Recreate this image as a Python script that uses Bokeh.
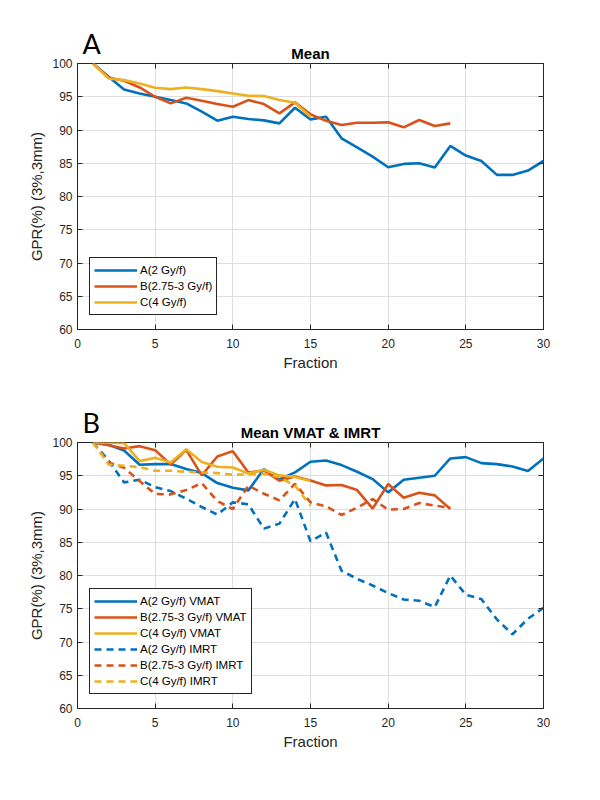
from bokeh.plotting import figure
from bokeh.models import Range1d, FixedTicker, LinearAxis, Legend, LegendItem, Title
from bokeh.layouts import column
from bokeh.embed import file_html
from bokeh.resources import INLINE

# ---------------- data ----------------
fraction_A = list(range(1, 31))
fraction_B = list(range(1, 25))
fraction_C = list(range(1, 16))

mean_A = [100, 98.0, 96.1, 95.5, 95.0, 94.5, 94.0, 92.75, 91.4, 92.0,
          91.65, 91.45, 91.0, 93.35, 91.6, 92.0, 88.75, 87.4, 86.0, 84.4,
          84.9, 85.0, 84.35, 87.6, 86.15, 85.35, 83.25, 83.25, 83.9, 85.35]
mean_B = [100, 97.9, 97.4, 96.4, 95.0, 94.0, 94.85, 94.4, 93.9, 93.5,
          94.5, 93.9, 92.5, 94.15, 92.35, 91.4, 90.75, 91.1, 91.1, 91.15,
          90.4, 91.5, 90.6, 91.0]
mean_C = [100, 97.75, 97.5, 97.0, 96.35, 96.15, 96.4, 96.15, 95.85, 95.5,
          95.15, 95.1, 94.5, 94.1, 92.0]

vmat_A = [100, 99.65, 98.8, 96.65, 96.75, 96.75, 96.0, 95.4, 93.9, 93.2,
          92.8, 96.0, 94.45, 95.5, 97.1, 97.3, 96.6, 95.6, 94.5, 92.5,
          94.4, 94.7, 95.0, 97.6, 97.8, 96.9, 96.75, 96.4, 95.7, 97.6]
vmat_B = [100, 99.6, 99.1, 99.45, 98.85, 96.7, 98.9, 95.05, 97.9, 98.7,
          95.5, 95.8, 94.25, 94.9, 94.3, 93.55, 93.6, 92.85, 90.05, 93.75,
          91.7, 92.45, 92.05, 90.0]
vmat_C = [100, 100, 99.9, 97.2, 97.7, 97.0, 99.0, 97.05, 96.35, 96.25,
          95.35, 95.9, 95.05, 94.8, 94.2]

imrt_A = [100, 97.3, 94.0, 94.4, 93.3, 92.7, 91.55, 90.3, 89.15, 91.0,
          90.7, 87.05, 87.8, 91.5, 85.15, 86.45, 80.7, 79.5, 78.5, 77.35,
          76.4, 76.2, 75.25, 80.0, 77.1, 76.45, 73.4, 71.15, 73.5, 75.15]
imrt_B = [100, 97.0, 96.2, 94.2, 92.25, 92.2, 92.85, 93.9, 91.2, 90.0,
          93.5, 92.3, 91.3, 93.8, 91.0, 90.4, 89.1, 90.2, 91.5, 89.9,
          90.0, 90.9, 90.5, 90.2]
imrt_C = [100, 96.7, 96.5, 96.3, 95.75, 95.75, 95.6, 95.5, 95.4, 95.15,
          95.2, 95.3, 94.8, 93.5, 90.5]

x_ticks = [0, 5, 10, 15, 20, 25, 30]
y_ticks = [60, 65, 70, 75, 80, 85, 90, 95, 100]

labels_top = ["A(2 Gy/f)", "B(2.75-3 Gy/f)", "C(4 Gy/f)"]
labels_bottom = ["A(2 Gy/f) VMAT", "B(2.75-3 Gy/f) VMAT", "C(4 Gy/f) VMAT",
                 "A(2 Gy/f) IMRT", "B(2.75-3 Gy/f) IMRT", "C(4 Gy/f) IMRT"]

COL_A = "#0072BD"
COL_B = "#D95319"
COL_C = "#EDB120"
TXT = "#262626"
FONT = "Liberation Sans"
LW = 2.6
DASH = "7 5"


def make_fig(title, letter, border_top):
    p = figure(frame_width=466, frame_height=266,
               x_range=Range1d(0, 30), y_range=Range1d(60, 100),
               output_backend="svg", toolbar_location=None,
               title_location=None,
               min_border_left=77, min_border_right=40,
               min_border_top=border_top, min_border_bottom=71,
               background_fill_color="white", border_fill_color="white")
    p.outline_line_color = TXT
    p.outline_line_width = 1

    p.xaxis.ticker = FixedTicker(ticks=x_ticks)
    p.yaxis.ticker = FixedTicker(ticks=y_ticks)
    p.xaxis.axis_label = "Fraction"
    p.yaxis.axis_label = "GPR(%) (3%,3mm)"
    for ax in (p.xaxis[0], p.yaxis[0]):
        ax.axis_line_color = TXT
        ax.major_tick_line_color = TXT
        ax.major_tick_in = 5
        ax.major_tick_out = 0
        ax.minor_tick_line_color = None
        ax.major_label_text_font = FONT
        ax.major_label_text_font_size = "12px"
        ax.major_label_text_color = TXT
        ax.axis_label_text_font = FONT
        ax.axis_label_text_font_size = "15px"
        ax.axis_label_text_font_style = "normal"
        ax.axis_label_text_color = TXT
    p.xaxis.major_label_standoff = 9
    p.xaxis.axis_label_standoff = 3
    p.yaxis.major_label_standoff = 5
    p.yaxis.axis_label_standoff = 4

    # inward tick marks on the top and right edges (minor ticks only, no labels)
    for loc, tk in (("right", y_ticks), ("above", x_ticks)):
        ax = LinearAxis(ticker=FixedTicker(ticks=[], minor_ticks=tk),
                        major_tick_line_color=None,
                        minor_tick_in=5, minor_tick_out=0,
                        minor_tick_line_color=TXT,
                        axis_line_color=None)
        p.add_layout(ax, loc)

    p.add_layout(Title(text=title, align="center", text_font=FONT,
                       text_font_size="15px", text_font_style="bold",
                       text_color="black", standoff=3), "above")
    p.add_layout(Title(text=letter, align="left", text_font="Lato",
                       text_font_size="27px", text_font_style="normal",
                       text_color="black", standoff=-36, offset=5), "above")

    p.xgrid.grid_line_color = "#dedede"
    p.ygrid.grid_line_color = "#dedede"
    p.xgrid.ticker = FixedTicker(ticks=x_ticks)
    p.ygrid.ticker = FixedTicker(ticks=y_ticks)
    return p


def add_legend(p, items):
    leg = Legend(items=items, location=(12, 14))
    leg.label_text_font = FONT
    leg.label_text_font_size = "11.5px"
    leg.label_text_color = "black"
    leg.border_line_color = TXT
    leg.border_line_width = 1
    leg.border_line_alpha = 1
    leg.background_fill_color = "white"
    leg.background_fill_alpha = 1
    leg.padding = 4
    leg.spacing = 0
    leg.margin = 0
    leg.label_height = 16
    leg.glyph_height = 16
    leg.glyph_width = 43
    leg.label_standoff = 3
    p.add_layout(leg)


# ---------------- top chart ----------------
p1 = make_fig("Mean", "A", 63)
r1 = p1.line(fraction_A, mean_A, line_color=COL_A, line_width=LW)
r2 = p1.line(fraction_B, mean_B, line_color=COL_B, line_width=LW)
r3 = p1.line(fraction_C, mean_C, line_color=COL_C, line_width=LW)
add_legend(p1, [LegendItem(label=labels_top[0], renderers=[r1]),
                LegendItem(label=labels_top[1], renderers=[r2]),
                LegendItem(label=labels_top[2], renderers=[r3])])

# ---------------- bottom chart ----------------
p2 = make_fig("Mean VMAT & IMRT", "B", 42)
b1 = p2.line(fraction_A, vmat_A, line_color=COL_A, line_width=LW)
b2 = p2.line(fraction_B, vmat_B, line_color=COL_B, line_width=LW)
b3 = p2.line(fraction_C, vmat_C, line_color=COL_C, line_width=LW)
b4 = p2.line(fraction_A, imrt_A, line_color=COL_A, line_width=LW, line_dash=DASH)
b5 = p2.line(fraction_B, imrt_B, line_color=COL_B, line_width=LW, line_dash=DASH)
b6 = p2.line(fraction_C, imrt_C, line_color=COL_C, line_width=LW, line_dash=DASH)
add_legend(p2, [LegendItem(label=lab, renderers=[r])
                for lab, r in zip(labels_bottom, [b1, b2, b3, b4, b5, b6])])

layout = column(p1, p2, spacing=0)
open("out.html", "w").write(file_html(layout, INLINE))
